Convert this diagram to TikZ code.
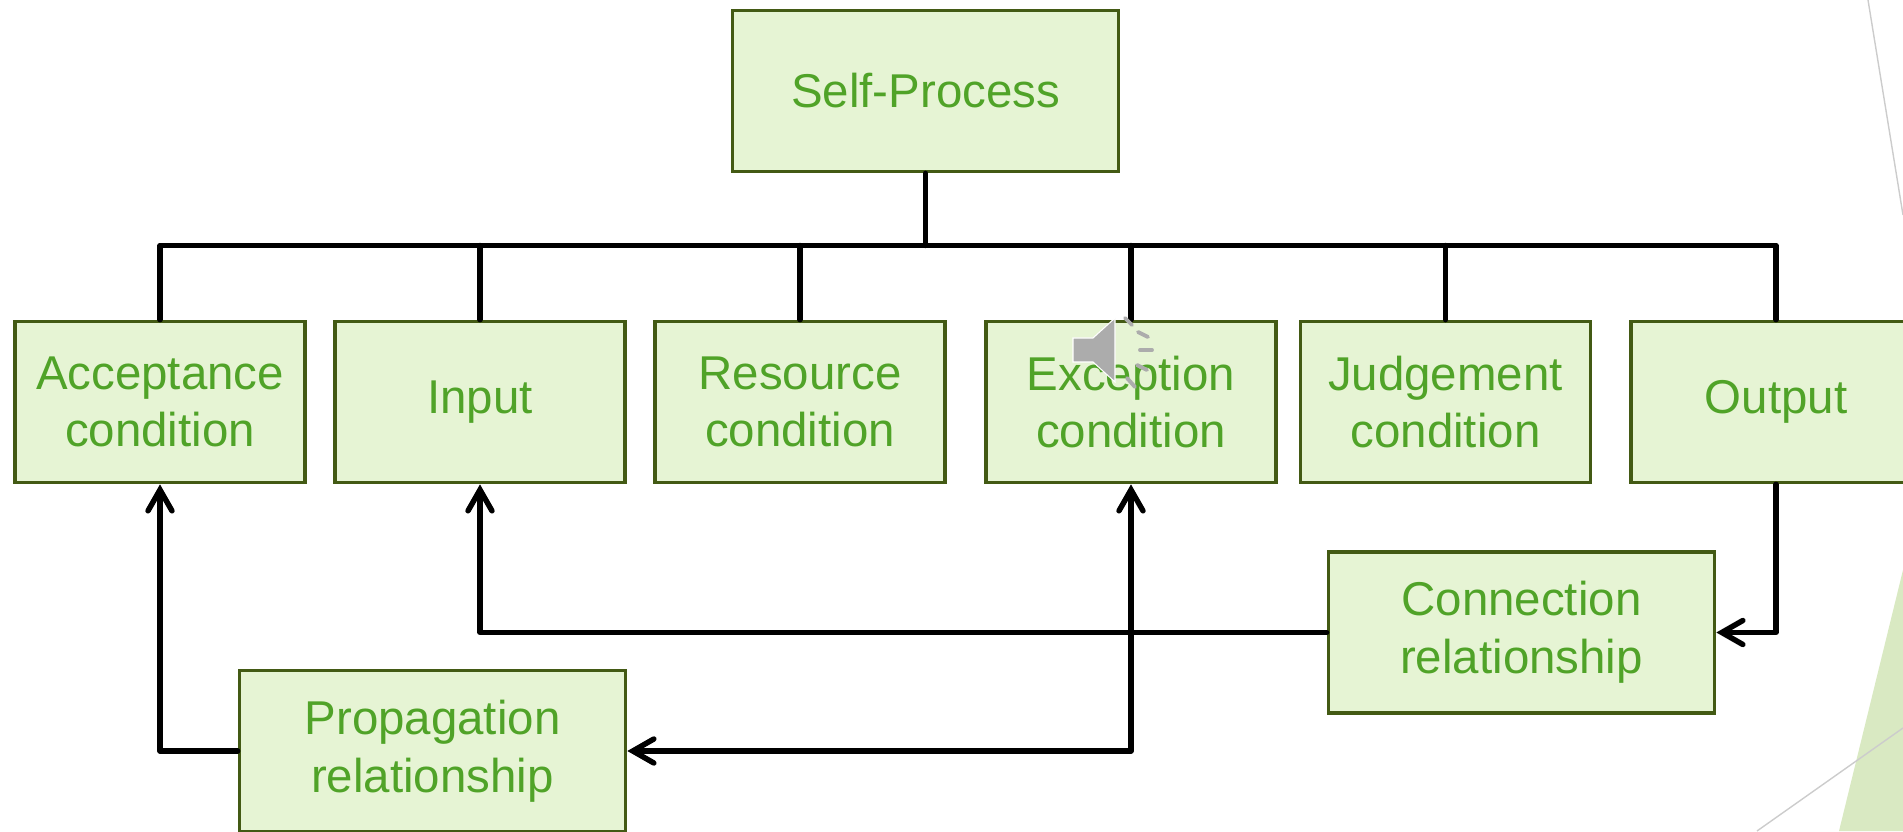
\documentclass[tikz,border=0pt]{standalone}
\usepackage{fontspec}
\setmainfont{Liberation Sans}
\usepackage{tikz}
\usetikzlibrary{arrows.meta}

\definecolor{boxfill}{RGB}{230,244,212}
\definecolor{boxline}{RGB}{67,90,20}
\definecolor{boxtext}{RGB}{80,163,40}
\definecolor{slidegreen}{RGB}{217,233,194}

\begin{document}
\begin{tikzpicture}[
    part/.style={draw=boxline, line width=2.1pt, fill=boxfill, text=boxtext,
        inner sep=0pt, align=center, minimum width=5.8cm, minimum height=3.22cm,
        font=\fontsize{27}{32.8}\selectfont},
    wide/.style={part, minimum width=7.72cm},
    link/.style={line width=3.1pt, line cap=round, line join=round},
    >={Straight Barb[length=4.2mm, width=4.8mm, line cap=round]}
]
    \useasboundingbox (0, 0) rectangle (38.06, 16.62);

    % slide background
    \fill[slidegreen] (36.78, 0) -- (38.06, 5.22) -- (38.06, 0) -- cycle;
    \draw[gray!40, line width=0.8pt] (37.36, 16.62) -- (38.06, 12.32);
    \draw[gray!40, line width=0.8pt] (35.14, 0) -- (38.06, 2.06);

    \node[wide] at (18.51, 14.8) (SP) {Self-Process};
    \node[part] at (3.2, 8.58) (Acc) {Acceptance\\condition};
    \node[part] at (9.6, 8.58) (In) {Input};
    \node[part] at (16.0, 8.58) (Res) {Resource\\condition};
    \node[part] at (22.62, 8.58) (Exc) {Exception\\condition};
    \node[part] at (28.91, 8.58) (Jud) {Judgement\\condition};
    \node[part] at (35.52, 8.58) (Out) {Output};
    \node[wide] at (30.43, 3.97) (Con) {Connection\\relationship};
    \node[wide] at (8.65, 1.6) (Prop) {Propagation\\relationship};
    \coordinate (bus) at (18.51, 11.71);

    \draw[link] (SP.south) -- (bus);
    \draw[link] (Acc.north) |- (bus) -| (Out.north);
    \foreach \n in {In, Res, Exc, Jud}
        \draw[link] (\n.north) -- (\n.north |- bus);

    \draw[link, ->] (Out.south) |- (Con.east);
    \draw[link, ->] (Con.west) -| (In.south);
    \draw[link, <->] (Prop.east) -| (Exc.south);
    \draw[link, ->] (Prop.west) -| (Acc.south);

    % speaker icon
    \draw[white, line width=0.6pt, fill=gray!65] (21.46, 9.86) -- (21.86, 9.86) -- (22.3, 10.26)
        -- (22.3, 8.98) -- (21.86, 9.38) -- (21.46, 9.38) -- cycle;
    \foreach \a/\b in {{(22.5, 10.26)}/{(22.64, 10.12)}, {(22.76, 9.98)}/{(22.96, 9.88)},
        {(22.8, 9.62)}/{(23.04, 9.62)}, {(22.74, 9.32)}/{(22.94, 9.22)}, {(22.54, 9.06)}/{(22.7, 8.88)}}
        \draw[gray!65, line width=2.2pt, line cap=round] \a -- \b;
\end{tikzpicture}
\end{document}
